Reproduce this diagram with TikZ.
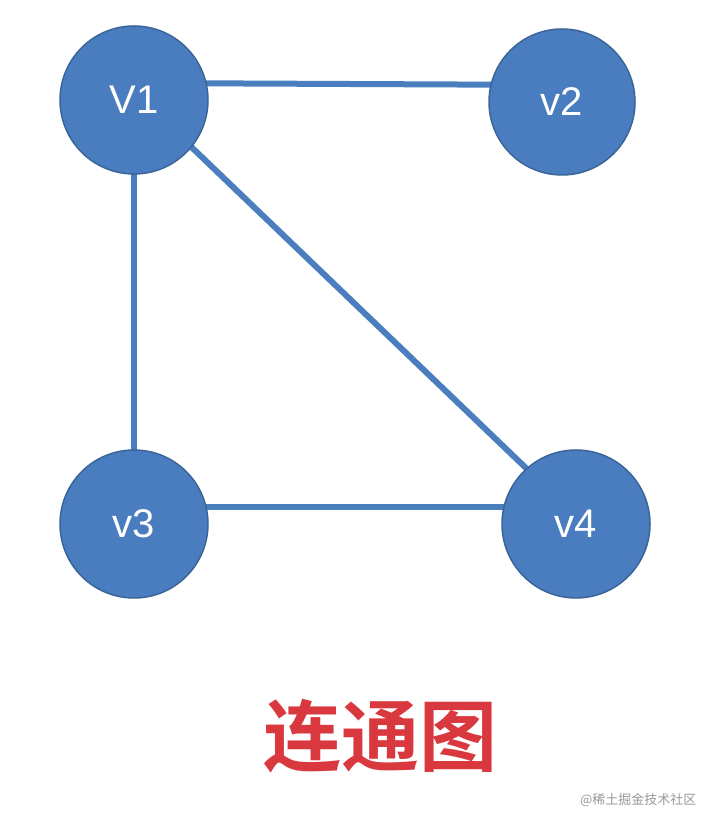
\documentclass[tikz,border=0pt]{standalone}
\usepackage{fontspec}
\usetikzlibrary{backgrounds}
\setmainfont{Liberation Sans}
\newfontfamily\cjk{Noto Sans CJK SC}
\newfontfamily\cjkb{Noto Sans CJK SC Bold}
\definecolor{nodefill}{HTML}{4A7DC0}
\definecolor{nodeedge}{HTML}{3A6598}
\definecolor{edgecol}{HTML}{4A7EBE}
\definecolor{titlered}{HTML}{D9393E}
\tikzset{
  vert/.style={circle, fill=nodefill, draw=nodeedge, line width=1.5pt, minimum size=148pt, inner sep=0pt, text=white, font=\fontsize{40}{42}\selectfont},
  link/.style={draw=edgecol, line width=6pt}
}
\begin{document}
\begin{tikzpicture}[x=1pt,y=1pt]
\useasboundingbox (0,0) rectangle (706,816);
\node[vert] (v1) at (134,716) {V1};
\node[vert, minimum size=146pt] (v2) at (562,714) {v2};
\node[vert] (v3) at (134,292) {v3};
\node[vert] (v4) at (576,292) {v4};
\begin{scope}[on background layer]
\fill[white] (0,0) rectangle (706,816);
\path[link] ([yshift=17]v1.center) -- ([yshift=17]v2.center);
\path[link] (v1.center) -- (v3.center);
\path[link] ([yshift=8]v1.center) -- ([yshift=8]v4.center);
\path[link] ([yshift=17]v3.center) -- ([yshift=17]v4.center);
\end{scope}
\node[text=titlered, font=\cjkb\fontsize{78}{80}\selectfont] (title) at (380,80) {连通图};
\node[text=gray!80, font=\cjk\fontsize{13}{15}\selectfont, anchor=east] (wm) at (700,16) {@稀土掘金技术社区};
\end{tikzpicture}
\end{document}
